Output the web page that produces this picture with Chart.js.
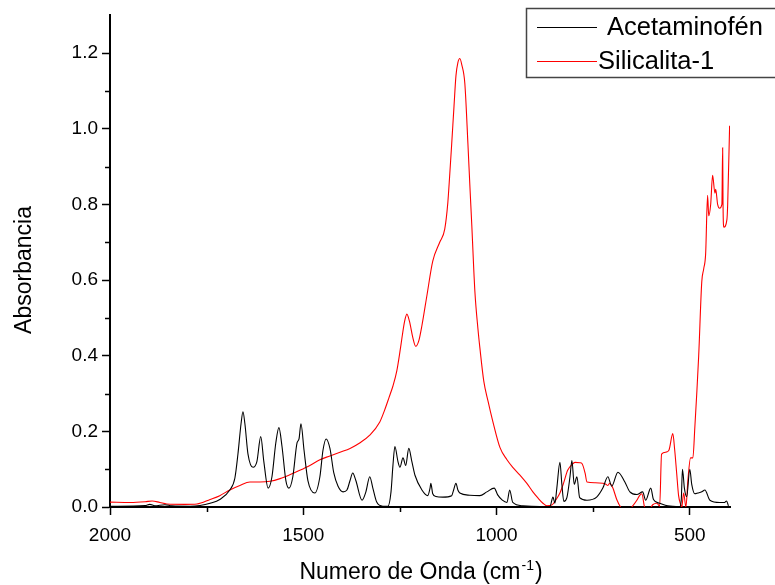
<!DOCTYPE html>
<html>
<head>
<meta charset="utf-8">
<title>Espectro IR</title>
<script src="https://cdn.jsdelivr.net/npm/chart.js@4.4.1/dist/chart.umd.min.js"></script>
<style>
    html, body { margin: 0; padding: 0; background: #fff; }
    #grafico { display: block; }
</style>
</head>
<body>
<canvas id="grafico" width="775" height="585"></canvas>
<script>
// series names
let nomes = ["Acetaminofén", "Silicalita-1"];

// Acetaminofén: numero de onda (cm-1) e absorbancia
let acetWn = [2000, 1909, 1897, 1884, 1858, 1840, 1793, 1767, 1741, 1716, 1690, 1677, 1669, 1661, 1656, 1651,
    1643, 1630, 1620, 1610, 1602, 1591, 1581, 1571, 1563, 1555, 1545, 1537, 1527, 1516, 1511, 1506, 1498, 1488,
    1470, 1457, 1449, 1441, 1431, 1421, 1410, 1397, 1387, 1379, 1372, 1364, 1348, 1338, 1328, 1320, 1310, 1294,
    1281, 1273, 1268, 1263, 1255, 1250, 1242, 1235, 1227, 1219, 1211, 1193, 1178, 1172, 1170, 1165, 1157, 1139,
    1116, 1111, 1105, 1100, 1095, 1069, 1043, 1025, 1006, 997, 985, 973, 966, 958, 932, 888, 862, 854, 849, 844,
    836, 831, 826, 818, 810, 805, 799, 792, 785, 766, 741, 725, 712, 702, 686, 668, 655, 637, 622, 614, 601, 594,
    578, 557, 526, 522, 519, 514, 508, 500, 495, 487, 479, 469, 461, 448, 423, 410, 405, 400];
let acetAbs = [0.002, 0.004, 0.007, 0.003, 0.006, 0.003, 0.002, 0.004, 0.010, 0.020, 0.045, 0.076, 0.140, 0.220, 0.252, 0.220,
    0.140, 0.105, 0.120, 0.186, 0.120, 0.050, 0.080, 0.170, 0.210, 0.160, 0.070, 0.050, 0.080, 0.170, 0.180, 0.220, 0.150, 0.070,
    0.037, 0.080, 0.150, 0.180, 0.155, 0.090, 0.055, 0.040, 0.045, 0.070, 0.090, 0.070, 0.018, 0.040, 0.080, 0.050, 0.013, 0.002,
    0.002, 0.040, 0.110, 0.160, 0.120, 0.105, 0.130, 0.110, 0.155, 0.120, 0.084, 0.045, 0.030, 0.050, 0.063, 0.035, 0.028, 0.026,
    0.030, 0.045, 0.063, 0.045, 0.037, 0.031, 0.030, 0.040, 0.050, 0.032, 0.018, 0.012, 0.045, 0.012, 0.003, 0.001, 0.001, 0.026, 0.010, 0.050,
    0.118, 0.060, 0.015, 0.025, 0.080, 0.123, 0.060, 0.080, 0.025, 0.018, 0.026, 0.050, 0.080, 0.055, 0.092, 0.066, 0.040, 0.033, 0.040, 0.018, 0.050, 0.020,
    0.010, 0.003, 0.001, 0.020, 0.100, 0.050, 0.027, 0.100, 0.060, 0.035, 0.037, 0.040, 0.045, 0.018, 0.012, 0.012, 0.016, 0.003];

// Silicalita-1
let silWn = [2000, 1948, 1909, 1891, 1871, 1853, 1806, 1775, 1741, 1716, 1690, 1664, 1638, 1612, 1586, 1560, 1535, 1509,
    1483, 1457, 1431, 1405, 1379, 1353, 1328, 1302, 1290, 1278, 1268, 1258, 1250, 1245, 1238, 1232, 1225, 1217, 1209, 1201, 1193,
    1180, 1165, 1147, 1134, 1126, 1121, 1116, 1110, 1105, 1100, 1095, 1090, 1082, 1074, 1069, 1064, 1056, 1048, 1043,
    1033, 1022, 1010, 991, 973, 958, 940, 922, 906, 893, 880, 870, 857, 847, 836, 826, 816, 805, 797, 784, 779, 771,
    766, 746, 725, 717, 712, 707, 699, 689, 679, 663, 650, 637, 630, 624, 617, 606, 596, 585, 578, 573, 562, 554, 544,
    539, 534, 529, 523, 521, 516, 510, 505, 498, 492, 487, 482, 477, 469, 464, 459, 454, 451, 446, 441, 435, 433, 428,
    423, 417, 415, 414, 412, 404, 402, 397];
let silAbs = [0.013, 0.012, 0.014, 0.016, 0.012, 0.008, 0.007, 0.008, 0.020, 0.030, 0.045, 0.057, 0.066, 0.066, 0.068, 0.075, 0.085, 0.097,
    0.110, 0.125, 0.135, 0.145, 0.155, 0.170, 0.190, 0.225, 0.255, 0.290, 0.320, 0.360, 0.410, 0.445, 0.490, 0.510, 0.490, 0.450, 0.425, 0.440, 0.480,
    0.560, 0.650, 0.700, 0.735, 0.805, 0.880, 0.960, 1.060, 1.140, 1.175, 1.186, 1.170, 1.120, 0.960, 0.850, 0.745, 0.570, 0.470, 0.420,
    0.333, 0.280, 0.228, 0.157, 0.125, 0.105, 0.085, 0.063, 0.040, 0.024, 0.010, 0.003, 0.005, 0.018, 0.037, 0.065, 0.097, 0.112, 0.118, 0.117, 0.115, 0.090,
    0.066, 0.064, 0.063, 0.060, 0.057, 0.063, 0.050, 0.020, 0.000, -0.015, 0.000, 0.018, 0.030, 0.035, 0.000, -0.008, 0.006, 0.010, 0.002, 0.140, 0.145, 0.150, 0.194,
    0.150, 0.090, 0.030, 0.005, -0.003, 0.037, 0.000, 0.070, 0.130, 0.130, 0.210, 0.300, 0.400, 0.596, 0.630, 0.670, 0.824, 0.770, 0.800, 0.877, 0.830, 0.840, 0.800,
    0.790, 0.800, 0.950, 0.800, 0.740, 0.760, 0.800, 1.008];

// ticks
let xRotulos = [2000, 1500, 1000, 500];
let xMenores = [1750, 1250, 750];
let yRotulos = [0, 0.2, 0.4, 0.6, 0.8, 1.0, 1.2];
let yMenores = [0.1, 0.3, 0.5, 0.7, 0.9, 1.1];

let fonte = "'Liberation Sans', Arial, sans-serif";

function pares(xs, ys) {
    return xs.map((x, i) => ({ x: x, y: ys[i] }));
}

let extras = {
    id: "extras",
    afterDraw(chart) {
        let c = chart.ctx;
        let a = chart.chartArea;
        let sx = chart.scales.x;
        let sy = chart.scales.y;
        c.save();

        // minor ticks
        c.strokeStyle = "#000";
        c.lineWidth = 1.5;
        c.beginPath();
        xMenores.forEach(v => {
            let px = Math.round(sx.getPixelForValue(v)) + 0.5;
            c.moveTo(px, a.bottom);
            c.lineTo(px, a.bottom + 5);
        });
        yMenores.forEach(v => {
            let py = Math.round(sy.getPixelForValue(v)) + 0.5;
            c.moveTo(a.left, py);
            c.lineTo(a.left - 5, py);
        });
        c.stroke();

        // axis titles
        c.fillStyle = "#000";
        c.textBaseline = "alphabetic";
        let t1 = "Numero de Onda (cm";
        let t2 = "-1";
        let t3 = ")";
        c.font = "23px " + fonte;
        let w1 = c.measureText(t1).width;
        let w3 = c.measureText(t3).width;
        c.font = "14px " + fonte;
        let w2 = c.measureText(t2).width;
        let x0 = (a.left + a.right) / 2 - (w1 + w2 + w3) / 2;
        c.font = "23px " + fonte;
        c.textAlign = "left";
        c.fillText(t1, x0, 579);
        c.font = "14px " + fonte;
        c.fillText(t2, x0 + w1 + 1, 570);
        c.font = "23px " + fonte;
        c.fillText(t3, x0 + w1 + w2 + 2, 579);

        c.translate(31, 270);
        c.rotate(-Math.PI / 2);
        c.textAlign = "center";
        c.fillText("Absorbancia", 0, 0);
        c.restore();

        // legend
        c.save();
        c.strokeStyle = "#444";
        c.lineWidth = 1.5;
        c.strokeRect(526.5, 8.5, 300, 69);
        let filas = [{ y: 27, tx: 607 }, { y: 61, tx: 598 }];
        chart.data.datasets.forEach((ds, i) => {
            c.strokeStyle = ds.borderColor;
            c.lineWidth = 1.2;
            c.beginPath();
            c.moveTo(537, filas[i].y + 0.5);
            c.lineTo(597, filas[i].y + 0.5);
            c.stroke();
            c.fillStyle = "#000";
            c.font = "25.5px " + fonte;
            c.textAlign = "left";
            c.textBaseline = "middle";
            c.fillText(ds.label, filas[i].tx, filas[i].y + 1);
        });
        c.restore();
    }
};

let ctx = document.getElementById("grafico").getContext("2d");

let grafico = new Chart(ctx, {
    type: "line",
    data: {
        datasets: [{
            label: nomes[0],
            data: pares(acetWn, acetAbs),
            borderColor: "#000000",
            borderWidth: 1.1,
            pointRadius: 0,
            cubicInterpolationMode: "monotone",
            fill: false
        }, {
            label: nomes[1],
            data: pares(silWn, silAbs),
            borderColor: "#ff0000",
            borderWidth: 1.1,
            pointRadius: 0,
            cubicInterpolationMode: "monotone",
            fill: false
        }]
    },
    options: {
        responsive: false,
        animation: false,
        layout: { padding: { top: 12, right: 45, left: 0, bottom: 0 } },
        plugins: {
            legend: { display: false },
            tooltip: { enabled: false }
        },
        scales: {
            x: {
                type: "linear",
                reverse: true,
                min: 396,
                max: 2000,
                afterBuildTicks: s => { s.ticks = xRotulos.map(v => ({ value: v })); },
                afterFit: s => { s.height = 78; },
                ticks: {
                    autoSkip: false,
                    maxRotation: 0,
                    padding: 9,
                    color: "#000",
                    font: { family: fonte, size: 19 },
                    callback: v => String(v)
                },
                grid: { drawOnChartArea: false, tickLength: 8, tickWidth: 1.5, tickColor: "#000" },
                border: { color: "#000", width: 2 }
            },
            y: {
                min: 0,
                max: 1.3,
                afterBuildTicks: s => { s.ticks = yRotulos.map(v => ({ value: v })); },
                afterFit: s => { s.width = 110; },
                ticks: {
                    autoSkip: false,
                    padding: 4,
                    color: "#000",
                    font: { family: fonte, size: 19 },
                    callback: v => v.toFixed(1)
                },
                grid: { drawOnChartArea: false, tickLength: 8, tickWidth: 1.5, tickColor: "#000" },
                border: { color: "#000", width: 2 }
            }
        }
    },
    plugins: [extras]
});
</script>
</body>
</html>
